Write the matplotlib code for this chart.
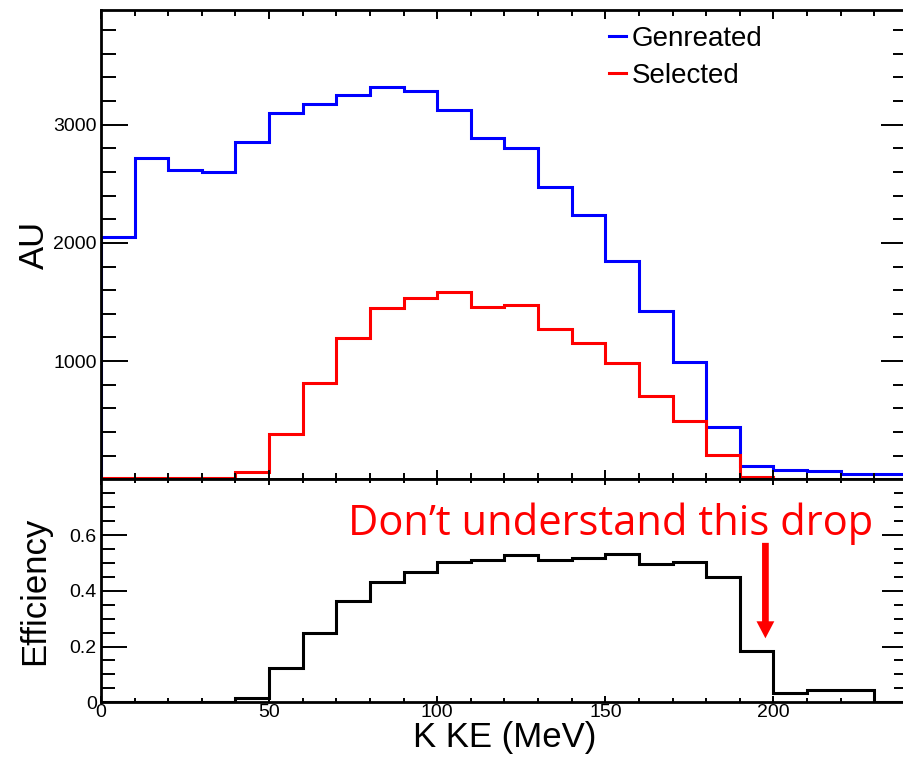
import matplotlib
matplotlib.use("Agg")
import matplotlib.pyplot as plt
import numpy as np
from matplotlib.ticker import MultipleLocator, FixedLocator, FormatStrFormatter

plt.rcParams['font.family'] = ['Liberation Sans', 'DejaVu Sans']

# 10 MeV bins from 0 to 240 MeV
bin_edges = np.arange(0, 250, 10)

generated = [2048, 2718, 2619, 2599, 2853, 3100, 3176, 3249, 3320, 3283,
             3125, 2890, 2805, 2477, 2240, 1850, 1426, 994, 443, 116,
             82, 70, 42, 42]
selected = [8, 8, 8, 8, 60, 387, 811, 1192, 1447, 1531,
            1585, 1460, 1475, 1269, 1155, 986, 703, 497, 203, 21,
            3, 3, 2, 0]
efficiency = [0.002, 0.002, 0.002, 0.002, 0.016, 0.122, 0.25, 0.364, 0.433, 0.468,
              0.504, 0.51, 0.527, 0.51, 0.516, 0.531, 0.495, 0.503, 0.45, 0.184,
              0.034, 0.044, 0.044, 0.002]

legend_labels = ["Genreated", "Selected"]
note_text = "Don\u2019t understand this drop"

fig = plt.figure(figsize=(9.04, 7.59), dpi=100)
ax_top = fig.add_axes([0.1117, 0.3685, 0.8927, 0.6183])
ax_bot = fig.add_axes([0.1117, 0.0747, 0.8927, 0.2938], sharex=ax_top)

ax_top.stairs(generated, bin_edges, color="#0000ff", lw=2.2, label=legend_labels[0])
ax_top.stairs(selected, bin_edges, color="#ff0000", lw=2.2, label=legend_labels[1])
ax_bot.stairs(efficiency, bin_edges, color="black", lw=2.2)

ax_top.set_xlim(0, 240)
ax_top.set_ylim(0, 3970)
ax_bot.set_ylim(0, 0.8)

for ax in (ax_top, ax_bot):
    for sp in ax.spines.values():
        sp.set_linewidth(2.0)
    ax.xaxis.set_major_locator(MultipleLocator(50))
    ax.xaxis.set_minor_locator(MultipleLocator(10))
    ax.tick_params(which="both", direction="in", top=True, right=True,
                   width=1.4, labelsize=14, colors="black")

ax_top.yaxis.set_major_locator(FixedLocator([1000, 2000, 3000]))
ax_top.yaxis.set_minor_locator(MultipleLocator(200))
ax_top.tick_params(axis="y", which="major", length=19.4, pad=3)
ax_top.tick_params(axis="y", which="minor", length=10.8)
ax_top.tick_params(axis="x", which="major", length=6.5)
ax_top.tick_params(axis="x", which="minor", length=4.2)
ax_top.tick_params(axis="x", labelbottom=False)

ax_bot.yaxis.set_major_locator(FixedLocator([0, 0.2, 0.4, 0.6]))
ax_bot.yaxis.set_minor_locator(MultipleLocator(0.05))
ax_bot.yaxis.set_major_formatter(FormatStrFormatter('%g'))
ax_bot.tick_params(axis="y", which="major", length=19, pad=3)
ax_bot.tick_params(axis="y", which="minor", length=10)
ax_bot.tick_params(axis="x", which="major", length=4.5, pad=1.5)
ax_bot.tick_params(axis="x", which="minor", length=3)

ax_top.set_ylabel("AU", fontsize=25)
ax_top.yaxis.set_label_coords(-0.062, 0.5)
ax_bot.set_ylabel("Efficiency", fontsize=25)
ax_bot.yaxis.set_label_coords(-0.062, 0.5)
ax_bot.set_xlabel("K KE (MeV)", fontsize=25)
ax_bot.xaxis.set_label_coords(0.5, -0.084)

ax_top.legend(loc="upper left", bbox_to_anchor=(0.6295, 0.966), frameon=False,
              fontsize=20, handlelength=0.61, handletextpad=0.22,
              labelspacing=0.38, borderpad=0, borderaxespad=0)

# annotation
ax_bot.text(73.4, 0.60, note_text, color="#ff0000", fontsize=30,
            family=["Open Sans", "DejaVu Sans"], ha="left", va="baseline")
ax_bot.arrow(197.6, 0.572, 0, 0.2296 - 0.572, width=2.0, head_width=5.3,
             head_length=0.061, length_includes_head=True,
             color="#ff0000", lw=0)

fig.savefig("out.png", dpi=100)
